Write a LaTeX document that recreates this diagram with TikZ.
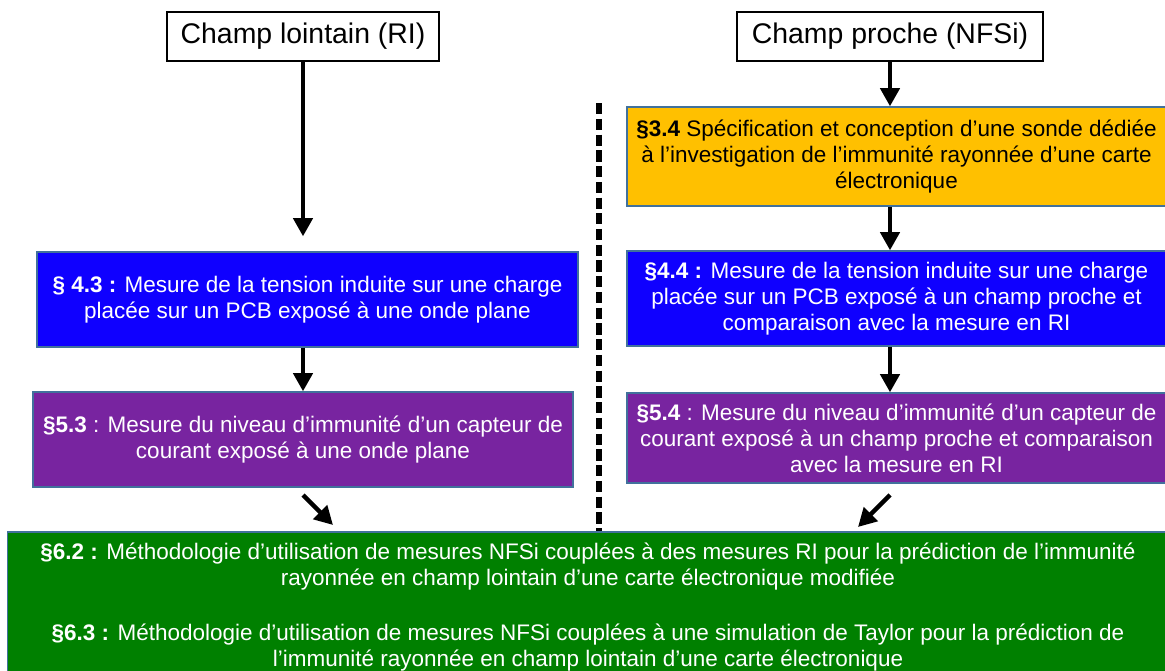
\documentclass[tikz,border=0pt]{standalone}
\usepackage{fontspec}
\setmainfont{Liberation Sans}
\usetikzlibrary{arrows.meta}

\definecolor{boxblue}{RGB}{15,0,255}
\definecolor{boxpurple}{RGB}{120,36,160}
\definecolor{boxorange}{RGB}{255,192,0}
\definecolor{boxgreen}{RGB}{0,128,0}
\definecolor{boxedge}{RGB}{65,113,156}

\begin{document}
\begin{tikzpicture}[x=0.025cm, y=-0.025cm,
    titlebox/.style={draw, line width=0.9pt, fill=white, align=center,
        font=\fontsize{20.2}{23}\selectfont, minimum height=1.225cm, inner sep=0pt},
    secbox/.style={draw=boxedge, line width=0.9pt, align=center, text=white,
        font=\fontsize{16}{18.5}\selectfont, inner sep=0pt},
    flow/.style={-{Triangle[length=13pt, width=13.5pt]}, line width=3.2pt},
    sepline/.style={line width=3.6pt, dash pattern=on 8pt off 3.2pt}]
    \useasboundingbox (0,0) rectangle (1165,671);

    \node[titlebox, minimum width=6.8cm] (ri) at (303,36.5) {Champ lointain (RI)};
    \node[titlebox, minimum width=7.65cm] (nfsi) at (890,36.5) {Champ proche (NFSi)};

    \node[secbox, fill=boxblue, minimum width=13.525cm, minimum height=2.375cm] (m43) at (307.5,299.5)
        {\textbf{§ 4.3 :} Mesure de la tension induite sur une charge\\placée sur un PCB exposé à une onde plane};
    \node[secbox, fill=boxpurple, minimum width=13.5cm, minimum height=2.375cm] (m53) at (303,439.5)
        {\textbf{§5.3} : Mesure du niveau d’immunité d’un capteur de\\courant exposé à une onde plane};
    \node[secbox, fill=boxorange, text=black, minimum width=13.475cm, minimum height=2.475cm] (s34) at (896.5,156.5)
        {\textbf{§3.4} Spécification et conception d’une sonde dédiée\\à l’investigation de l’immunité rayonnée d’une carte\\électronique};
    \node[secbox, fill=boxblue, minimum width=13.475cm, minimum height=2.375cm] (m44) at (896.5,298.5)
        {\textbf{§4.4 :} Mesure de la tension induite sur une charge\\placée sur un PCB exposé à un champ proche et\\comparaison avec la mesure en RI};
    \node[secbox, fill=boxpurple, minimum width=13.475cm, minimum height=2.25cm] (m54) at (896.5,438)
        {\textbf{§5.4} : Mesure du niveau d’immunité d’un capteur de\\courant exposé à un champ proche et comparaison\\avec la mesure en RI};
    \node[secbox, fill=boxgreen, minimum width=29cm, minimum height=3.75cm] (s62) at (588,607)
        {\textbf{§6.2 :} Méthodologie d’utilisation de mesures NFSi couplées à des mesures RI pour la prédiction de l’immunité\\rayonnée en champ lointain d’une carte électronique modifiée\\[21pt]\textbf{§6.3 :} Méthodologie d’utilisation de mesures NFSi couplées à une simulation de Taylor pour la prédiction de\\l’immunité rayonnée en champ lointain d’une carte électronique};

    \coordinate (sep) at (599,103);
    \coordinate (ldiag) at (303,495);
    \coordinate (ltip) at (333,525);
    \coordinate (rdiag) at (890,495);
    \coordinate (rtip) at (858,527);

    % RI on the left, NFSi on the right
    \draw[flow, shorten >=0.375cm] (ri) -- (ri |- m43.north);
    \draw[flow] (m43.south -| ri) -- (m53.north -| ri);
    \draw[flow] (nfsi) -- (nfsi |- s34.north);
    \draw[flow] (s34.south -| nfsi) -- (m44.north -| nfsi);
    \draw[flow] (m44.south -| nfsi) -- (m54.north -| nfsi);
    \draw[flow] (ldiag) -- (ltip);
    \draw[flow] (rdiag) -- (rtip);
    \draw[sepline] (sep) -- (sep |- s62.north);
\end{tikzpicture}
\end{document}
